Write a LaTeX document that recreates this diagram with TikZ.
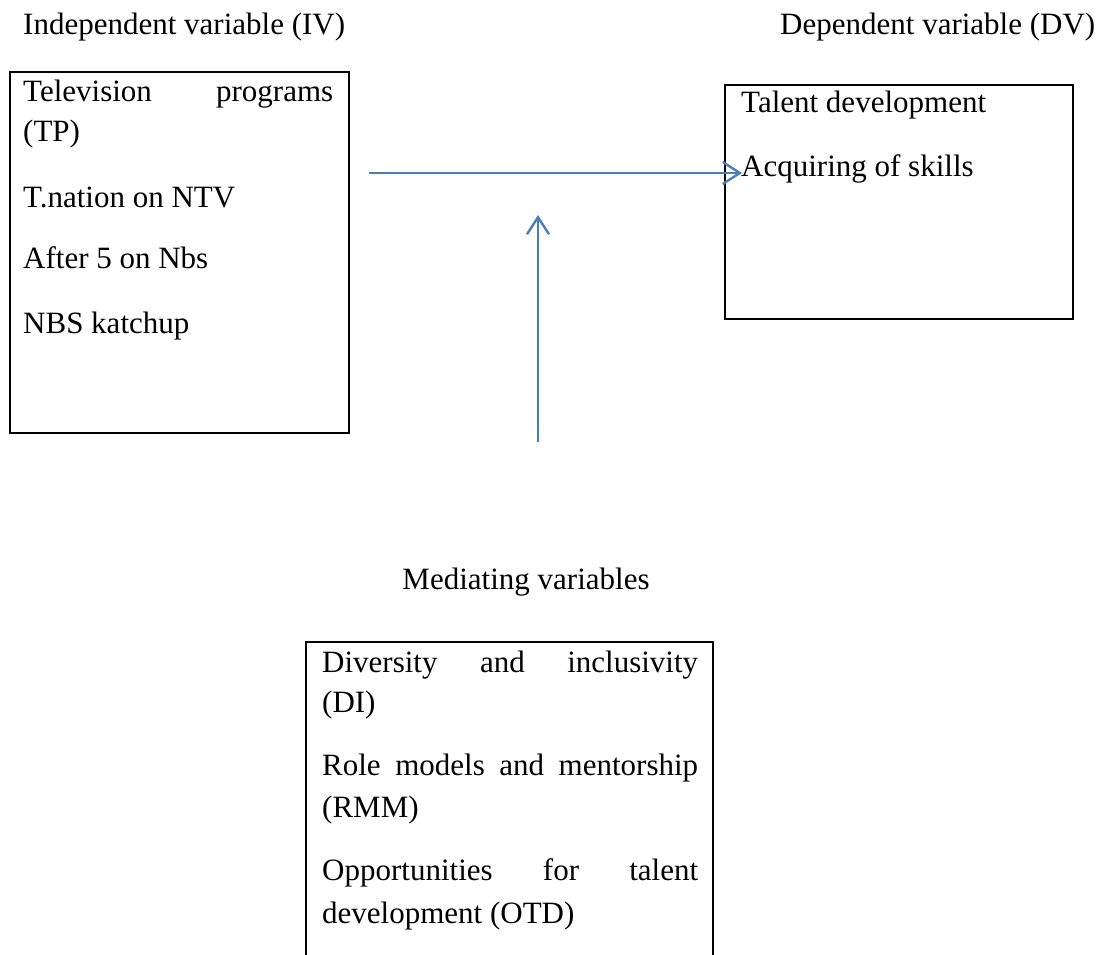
\documentclass[tikz,border=0pt]{standalone}
\usepackage{fontspec}
\setmainfont{Liberation Serif}
\usetikzlibrary{arrows.meta}
\definecolor{arrowblue}{RGB}{74,126,187}
\tikzset{
  box/.style={draw=black, line width=2pt},
  txt/.style={anchor=base west, inner sep=0pt, font=\fontsize{31}{41}\selectfont},
  link/.style={draw=arrowblue, line width=2.4pt, -{Straight Barb[length=17pt,width=22pt,line width=2.4pt]}}
}
\begin{document}
\begin{tikzpicture}[x=1pt,y=-1pt]
\useasboundingbox (0,0) rectangle (1108,955);
% headers
\node[txt] (ivh) at (23,35) {Independent variable (IV)};
\node[txt] (dvh) at (780,35) {Dependent variable (DV)};
% left box
\node[box, anchor=north west, minimum width=339pt, minimum height=361pt, inner sep=0pt] (iv) at (9,71) {};
\node[txt] (tp1) at (23,102) {\makebox[310pt][s]{Television programs}};
\node[txt] (tp2) at (23,142) {(TP)};
\node[txt] (tp3) at (23,207) {T.nation on NTV};
\node[txt] (tp4) at (23,268) {After 5 on Nbs};
\node[txt] (tp5) at (23,333) {NBS katchup};
% right box
\node[box, anchor=north west, minimum width=348pt, minimum height=234pt, inner sep=0pt] (dv) at (724,84) {};
\node[txt] (dv1) at (741,113) {Talent development};
\node[txt] (dv2) at (741,176) {Acquiring of skills};
% mediating label
\node[txt, anchor=base] (mvh) at (526,589) {Mediating variables};
% bottom box (open at the bottom edge of the picture)
\coordinate (mbl) at (306,960);
\coordinate (mbr) at (713,960);
\draw[box] (mbl) |- (713,642) -- (mbr);
\node[txt] (mv1) at (322,672) {\makebox[376pt][s]{Diversity and inclusivity}};
\node[txt] (mv2) at (322,712) {(DI)};
\node[txt] (mv3) at (322,775) {\makebox[376pt][s]{Role models and mentorship}};
\node[txt] (mv4) at (322,817) {(RMM)};
\node[txt] (mv5) at (322,880) {\makebox[376pt][s]{Opportunities for talent}};
\node[txt] (mv6) at (322,923) {development (OTD)};
% arrows
\coordinate (hs) at (369,173);
\coordinate (he) at (742,173);
\coordinate (vs) at (538,442);
\coordinate (ve) at (538,215);
\draw[link] (hs) -- (he);
\draw[link] (vs) -- (ve);
\end{tikzpicture}
\end{document}
